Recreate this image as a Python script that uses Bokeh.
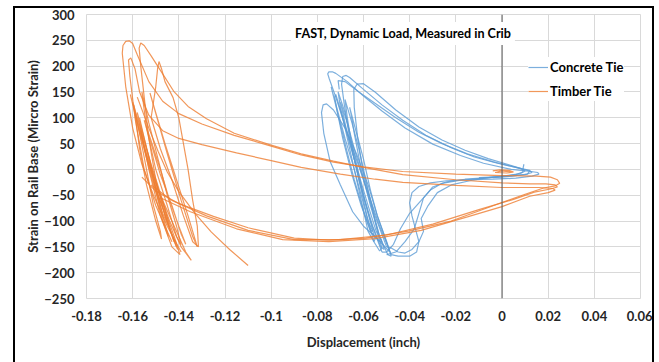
from bokeh.plotting import figure
from bokeh.models import FixedTicker, Span, Label, Legend
from bokeh.embed import file_html
from bokeh.resources import INLINE

# ---------------- data ----------------
x_ticks = [-0.18, -0.16, -0.14, -0.12, -0.1, -0.08, -0.06, -0.04, -0.02, 0, 0.02, 0.04, 0.06]
x_tick_labels = ["-0.18", "-0.16", "-0.14", "-0.12", "-0.1", "-0.08", "-0.06", "-0.04", "-0.02", "0", "0.02", "0.04", "0.06"]
y_ticks = [-250, -200, -150, -100, -50, 0, 50, 100, 150, 200, 250, 300]

# Timber tie loops (displacement inch, strain micro-strain)
timber_x = [
    [-0.139, -0.145, -0.151, -0.156, -0.160, -0.163, -0.1645, -0.1642, -0.1630, -0.1615, -0.160, -0.158, -0.153, -0.147, -0.140, -0.130, -0.116, -0.100, -0.087, -0.073, -0.060, -0.043, -0.020, 0.000, 0.015, 0.021, 0.024, 0.025, 0.023, 0.018, 0.010, 0.000, -0.022, -0.040, -0.059, -0.075, -0.090, -0.110, -0.125, -0.140, -0.150, -0.156],
    [-0.141, -0.146, -0.150, -0.153, -0.155, -0.1565, -0.1572, -0.1565, -0.155, -0.152, -0.147, -0.142, -0.136, -0.128, -0.116, -0.100, -0.087, -0.073, -0.060, -0.043, -0.020, 0.000, 0.012, 0.019, 0.023, 0.024, 0.021, 0.014, 0.005, -0.010, -0.030, -0.050, -0.070, -0.090, -0.110, -0.128, -0.143, -0.152],
    [-0.143, -0.150, -0.155, -0.159, -0.1612, -0.1618, -0.1608, -0.159, -0.157, -0.153, -0.147, -0.140, -0.130, -0.115, -0.100, -0.087, -0.070, -0.055, -0.043, -0.020, 0.000, 0.016, 0.022, 0.023, 0.020, 0.012, 0.000, -0.015, -0.035, -0.055, -0.075, -0.095, -0.115, -0.135, -0.148],
    [-0.1595, -0.157, -0.154, -0.151, -0.148, -0.1475, -0.150, -0.154, -0.157, -0.1595],
    [-0.152, -0.150, -0.1492, -0.1486, -0.1475, -0.146, -0.1425, -0.140, -0.138, -0.136, -0.134, -0.132, -0.1315, -0.134, -0.138, -0.143, -0.148, -0.152],
    [-0.161, -0.158, -0.154, -0.149, -0.144, -0.139, -0.1346, -0.137, -0.142, -0.148, -0.153, -0.157, -0.161],
    [-0.158, -0.153, -0.149, -0.145, -0.140, -0.133, -0.126, -0.118, -0.110],
    [-0.156, -0.153, -0.149, -0.145, -0.141, -0.139, -0.141, -0.145, -0.150, -0.154, -0.156],
    [-0.158, -0.155, -0.151, -0.146, -0.142, -0.1395, -0.143, -0.148, -0.153, -0.158],
    [-0.1525, -0.150, -0.146, -0.141, -0.136, -0.132, -0.134, -0.139, -0.145, -0.1525],
    [-0.157, -0.154, -0.150, -0.147, -0.1445, -0.147, -0.151, -0.157],
    [-0.160, -0.157, -0.153, -0.149, -0.145, -0.142, -0.1435, -0.147, -0.152, -0.156, -0.160],
    [-0.155, -0.152, -0.148, -0.144, -0.140, -0.137, -0.139, -0.143, -0.148, -0.152, -0.155],
    [-0.1565, -0.1545, -0.151, -0.147, -0.143, -0.1405, -0.1425, -0.1465, -0.151, -0.1545, -0.1565],
    [-0.004, -0.001, 0.003, 0.005, 0.002, -0.003, 0.000, 0.004],
]
timber_y = [
    [-160, -110, -50, 10, 80, 160, 225, 240, 248, 249, 244, 222, 170, 132, 108, 88, 66, 45, 28, 14, 5, -4, -9, -12, -13, -15, -20, -27, -32, -36, -48, -64, -100, -119, -133, -137, -133, -113, -91, -66, -42, -15],
    [-150, -90, -20, 60, 140, 200, 235, 245, 240, 220, 185, 150, 122, 98, 70, 47, 30, 16, 4, -10, -20, -26, -28, -28, -30, -34, -38, -44, -58, -78, -106, -127, -136, -136, -118, -90, -60, -30],
    [-140, -70, 0, 100, 180, 212, 216, 195, 150, 105, 75, 60, 48, 32, 17, 4, -9, -19, -25, -31, -35, -35, -37, -40, -45, -52, -72, -92, -118, -134, -140, -136, -115, -82, -55],
    [125, 70, 0, -70, -120, -135, -100, -30, 40, 125],
    [100, 160, 195, 209, 195, 170, 139, 100, 50, 0, -60, -110, -150, -140, -90, -20, 40, 100],
    [145, 90, 30, -40, -100, -150, -176, -160, -110, -50, 10, 70, 145],
    [140, 80, 35, -5, -43, -85, -121, -155, -186],
    [150, 90, 20, -50, -110, -146, -130, -70, 0, 80, 150],
    [110, 60, -10, -80, -130, -165, -150, -90, 0, 110],
    [148, 110, 50, -20, -90, -150, -130, -60, 30, 148],
    [100, 40, -30, -90, -130, -100, -20, 100],
    [130, 80, 10, -50, -100, -140, -120, -60, 10, 70, 130],
    [95, 55, 0, -60, -110, -145, -125, -70, -10, 50, 95],
    [75, 30, -30, -85, -125, -155, -135, -80, -25, 30, 75],
    [-3, -1, -2, -5, -7, -6, -3, -5],
]

# Concrete tie loops
concrete_x = [
    [-0.048, -0.053, -0.060, -0.067, -0.072, -0.0748, -0.0755, -0.0750, -0.0735, -0.072, -0.067, -0.060, -0.052, -0.042, -0.030, -0.018, -0.008, 0.004, 0.0125, 0.0155, 0.016, 0.013, 0.006, -0.004, -0.014, -0.024, -0.031, -0.036, -0.039, -0.040, -0.039, -0.0375, -0.036, -0.037, -0.040, -0.045, -0.048],
    [-0.052, -0.057, -0.062, -0.066, -0.0683, -0.0695, -0.0690, -0.0675, -0.066, -0.060, -0.052, -0.043, -0.033, -0.022, -0.012, -0.002, 0.007, 0.012, 0.013, 0.010, 0.002, -0.008, -0.018, -0.026, -0.031, -0.035, -0.040, -0.044, -0.047, -0.050, -0.052],
    [-0.0486, -0.055, -0.060, -0.0647, -0.070, -0.0745, -0.0772, -0.0782, -0.0775, -0.0760, -0.073, -0.068, -0.063, -0.058, -0.054, -0.050, -0.0486],
    [-0.072, -0.069, -0.066, -0.062, -0.058, -0.0545, -0.0525, -0.052, -0.0535, -0.057, -0.061, -0.065, -0.069, -0.0715, -0.0725, -0.072],
    [-0.070, -0.067, -0.064, -0.060, -0.056, -0.053, -0.0515, -0.051, -0.0525, -0.056, -0.060, -0.064, -0.0675, -0.0695, -0.070],
    [-0.074, -0.071, -0.068, -0.064, -0.061, -0.058, -0.0565, -0.056, -0.057, -0.060, -0.064, -0.068, -0.0715, -0.0735, -0.074],
    [-0.066, -0.063, -0.060, -0.057, -0.054, -0.050, -0.0485, -0.048, -0.0495, -0.053, -0.057, -0.061, -0.064, -0.0655, -0.066],
    [-0.050, -0.055, -0.060, -0.0625, -0.0640, -0.0642, -0.0628, -0.060, -0.055, -0.046, -0.036, -0.026, -0.016, -0.006, 0.003, 0.008, 0.010, 0.008, 0.002, -0.006, -0.014, -0.022, -0.028, -0.032, -0.035, -0.034, -0.036, -0.039, -0.042, -0.045, -0.048, -0.050],
    [-0.068, -0.065, -0.062, -0.059, -0.056, -0.0535, -0.052, -0.053, -0.0555, -0.0585, -0.0615, -0.0645, -0.0670, -0.068],
    [-0.071, -0.068, -0.0655, -0.0625, -0.0595, -0.0565, -0.055, -0.0555, -0.058, -0.061, -0.064, -0.067, -0.070, -0.071],
    [-0.0705, -0.071, -0.068, -0.062, -0.055, -0.046, -0.036, -0.026, -0.015, -0.004, 0.006, 0.012, 0.011, 0.004, -0.006, -0.016, -0.024, -0.030, -0.034, -0.036, -0.038, -0.042, -0.046, -0.050],
    [0.0095, 0.0092, 0.009, 0.006, 0.000, -0.010],
]
concrete_y = [
    [-165, -110, -20, 70, 140, 175, 185, 189, 189, 186, 170, 142, 113, 80, 49, 27, 12, 0, -4, -6, -9, -13, -17, -19, -20, -22, -26, -33, -45, -65, -90, -115, -140, -160, -168, -168, -165],
    [-160, -100, -20, 60, 125, 165, 180, 182, 178, 155, 125, 95, 66, 42, 24, 12, 3, -2, -6, -10, -14, -17, -21, -27, -40, -60, -85, -115, -145, -160, -160],
    [-160, -130, -110, -82, -30, 16, 70, 110, 125, 127, 115, 80, 30, -30, -90, -140, -160],
    [145, 100, 50, -10, -70, -120, -135, -140, -138, -120, -70, -10, 60, 115, 140, 145],
    [130, 90, 40, -20, -80, -130, -148, -155, -150, -110, -50, 20, 80, 120, 130],
    [160, 110, 60, 0, -50, -100, -115, -120, -118, -80, -20, 50, 115, 150, 160],
    [120, 70, 20, -40, -90, -140, -160, -168, -165, -130, -70, 0, 70, 110, 120],
    [-150, -90, -10, 60, 120, 155, 165, 166, 150, 115, 82, 57, 37, 21, 9, 2, -3, -8, -12, -16, -22, -30, -45, -70, -95, -120, -140, -155, -162, -160, -152, -150],
    [135, 90, 40, -20, -80, -130, -152, -158, -140, -90, -30, 30, 100, 135],
    [150, 110, 60, 0, -60, -110, -135, -140, -120, -60, 0, 60, 120, 150],
    [155, 172, 170, 150, 128, 100, 72, 50, 30, 15, 4, -3, -9, -13, -16, -19, -24, -34, -55, -85, -115, -140, -160, -165],
    [10, 4, -5, -10, -14, -16],
]

series_names = ["Concrete Tie", "Timber Tie"]
title_text = "FAST, Dynamic Load, Measured in Crib"
x_label = "Displacement (inch)"
y_label = "Strain on Rail Base (Mircro Strain)"

# ---------------- styling ----------------
FONT = "Lato"
BLUE = "#5B9BD5"
ORANGE = "#ED7D31"
GRID = "#D9D9D9"
TEXT = "#262626"

# The host element is border-box: its border sits inside width/height.
# Canvas starts at (15, 8) in the window because of the CSS margin + border.
p = figure(width=641, height=356, x_range=(-0.18, 0.06), y_range=(-250, 300),
           output_backend="svg", toolbar_location=None,
           min_border_left=71, min_border_right=16, min_border_top=6, min_border_bottom=66)
p.styles = {"margin-left": "13px", "margin-top": "6px",
            "border-top": "2px solid black", "border-left": "2px solid black",
            "border-right": "2px solid black", "border-bottom": "none"}
p.background_fill_color = "white"
p.border_fill_color = "white"
p.outline_line_color = GRID

p.xaxis.ticker = FixedTicker(ticks=x_ticks)
p.yaxis.ticker = FixedTicker(ticks=y_ticks)
p.xaxis.major_label_overrides = dict(zip(x_ticks, x_tick_labels))
p.xgrid.ticker = FixedTicker(ticks=x_ticks)
p.ygrid.ticker = FixedTicker(ticks=y_ticks)
p.grid.grid_line_color = GRID
p.grid.grid_line_width = 1

for ax in (p.xaxis, p.yaxis):
    ax.axis_line_color = None
    ax.major_tick_line_color = None
    ax.minor_tick_line_color = None
    ax.major_label_text_font = FONT
    ax.major_label_text_font_style = "bold"
    ax.major_label_text_font_size = "13px"
    ax.major_label_text_color = TEXT
    ax.axis_label_text_font = FONT
    ax.axis_label_text_font_style = "bold"
    ax.axis_label_text_font_size = "13px"
    ax.axis_label_text_color = TEXT

p.xaxis.axis_label = x_label
p.yaxis.axis_label = y_label
p.xaxis.major_label_standoff = 6
p.yaxis.major_label_standoff = 6
p.xaxis.axis_label_standoff = 10
p.yaxis.axis_label_standoff = 0

p.add_layout(Span(location=0, dimension="height", line_color="#595959", line_width=1))

r_c = p.multi_line(concrete_x, concrete_y, line_color=BLUE, line_width=1.2, line_alpha=0.8)
r_t = p.multi_line(timber_x, timber_y, line_color=ORANGE, line_width=1.2, line_alpha=0.8)

legend = Legend(items=[(series_names[0], [r_c]), (series_names[1], [r_t])],
                location=(442, 197), orientation="vertical")
legend.background_fill_color = "white"
legend.background_fill_alpha = 1
legend.border_line_color = None
legend.padding = 2
legend.margin = 0
legend.spacing = 4
legend.glyph_width = 20
legend.glyph_height = 20
legend.label_height = 20
legend.label_standoff = 2
legend.label_text_font = FONT
legend.label_text_font_style = "bold"
legend.label_text_font_size = "13px"
legend.label_text_color = "black"
p.add_layout(legend, "center")

title = Label(x=-0.0429, y=263, text=title_text, text_align="center", text_baseline="middle",
              text_font=FONT, text_font_style="bold", text_font_size="12.6px", text_color="black",
              background_fill_color="white", padding=4)
p.add_layout(title)

open("out.html", "w").write(file_html(p, INLINE))
